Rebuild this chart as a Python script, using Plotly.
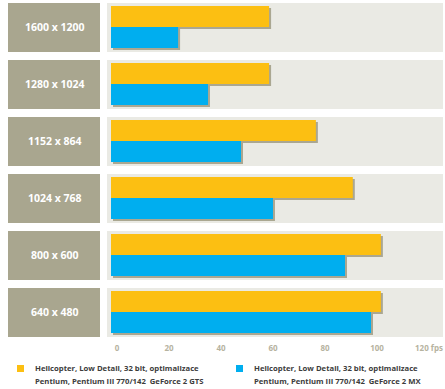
import plotly.graph_objects as go

resolutions = ["1600 x 1200", "1280 x 1024", "1152 x 864", "1024 x 768", "800 x 600", "640 x 480"]
gts_fps = [60.8, 60.8, 78.8, 93.0, 103.8, 103.8]
mx_fps = [25.8, 37.3, 50.0, 62.3, 90.0, 100.0]
tick_vals = [0, 20, 40, 60, 80, 100, 120]
tick_text = ["0", "20", "40", "60", "80", "100", "120 fps"]
legend_gts = ["Helicopter, Low Detail, 32 bit, optimalizace", "Pentium, Pentium III 770/142  GeForce 2 GTS"]
legend_mx = ["Helicopter, Low Detail, 32 bit, optimalizace", "Pentium, Pentium III 770/142  GeForce 2 MX"]

W, H = 445, 389
X0, X1 = 111, 443
PX_PER_UNIT = 2.6
ROW = 57.0
PLOT_H = 341
YELLOW = "#fcbf12"
BLUE = "#00aeef"
SHADOW = "#aaa791"
BOX = "#a9a68f"
PANEL = "#eaeae4"
FONT = "Open Sans"

bw = 21 / ROW
sx = 2 / PX_PER_UNIT
sy = 2 / ROW
off_y = -21.5 / ROW
off_b = -0.5 / ROW

fig = go.Figure()
for vals, col, off in [(gts_fps, YELLOW, off_y), (mx_fps, BLUE, off_b)]:
    fig.add_trace(go.Bar(y=resolutions, x=vals, base=[sx] * len(vals), orientation="h",
                         marker=dict(color=SHADOW, line=dict(width=0)), width=bw, offset=off + sy,
                         showlegend=False, hoverinfo="skip"))
    fig.add_trace(go.Bar(y=resolutions, x=vals, orientation="h",
                         marker=dict(color=col, line=dict(width=0)), width=bw, offset=off,
                         showlegend=False))

shapes = []
annotations = []
half = 24.5 / ROW
for i, r in enumerate(resolutions):
    shapes.append(dict(type="rect", xref="paper", yref="y", x0=107 / W, x1=443 / W,
                       y0=i - half, y1=i + half, fillcolor=PANEL, line=dict(width=0), layer="below"))
    shapes.append(dict(type="rect", xref="paper", yref="y", x0=8 / W, x1=100 / W,
                       y0=i - half, y1=i + half, fillcolor=BOX, line=dict(width=0), layer="below"))
    annotations.append(dict(xref="paper", yref="y", x=54.5 / W, y=i - 0.01, text=r, showarrow=False,
                            font=dict(family=FONT, size=10.5, color="white", weight="bold"),
                            xanchor="center", yanchor="middle"))

for lx, col, lines in [(17, YELLOW, legend_gts), (236, BLUE, legend_mx)]:
    shapes.append(dict(type="rect", xref="paper", yref="paper", x0=lx / W, x1=(lx + 7) / W,
                       y0=1 - 372 / H, y1=1 - 365 / H, fillcolor=col, line=dict(width=0)))
    for k, line in enumerate(lines):
        annotations.append(dict(xref="paper", yref="paper", x=(lx + 16) / W, y=1 - (368.3 + 12.2 * k) / H,
                                text=line, showarrow=False, align="left", xanchor="left", yanchor="middle",
                                font=dict(family=FONT, size=7.7, color="#3c3c3c", weight="bold")))

fig.update_layout(
    width=W, height=H, margin=dict(l=0, r=0, t=0, b=0),
    paper_bgcolor="white", plot_bgcolor="rgba(0,0,0,0)",
    barmode="overlay", showlegend=False,
    shapes=shapes, annotations=annotations,
    xaxis=dict(domain=[X0 / W, X1 / W], range=[0, (X1 - X0) / PX_PER_UNIT],
               tickvals=tick_vals, ticktext=tick_text, ticklabelshift=6, ticklabelstandoff=1,
               showgrid=False, zeroline=False, showline=False, ticks="",
               tickfont=dict(family=FONT, size=8, color="#b6b39f", weight="bold")),
    yaxis=dict(domain=[1 - PLOT_H / H, 1], range=[(PLOT_H - 27.5) / ROW, -27.5 / ROW],
               showticklabels=False, showgrid=False, zeroline=False, showline=False, ticks=""),
)

fig.write_html("out.html")
